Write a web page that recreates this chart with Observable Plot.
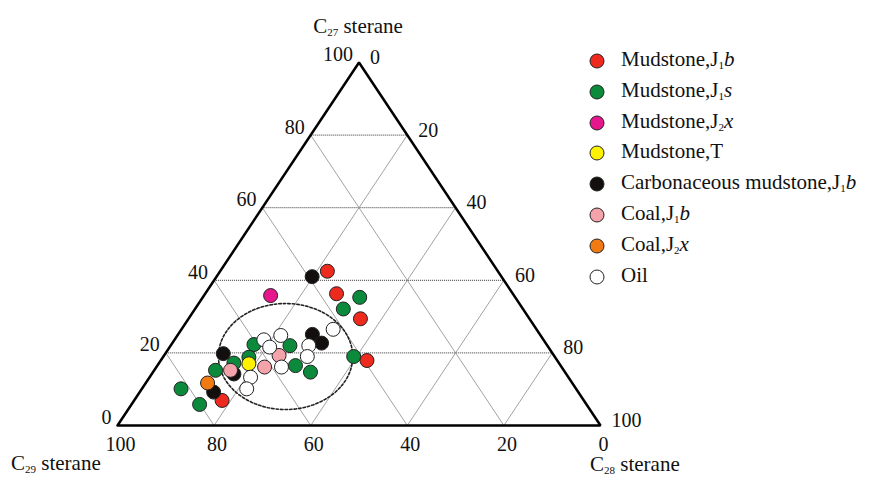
<!DOCTYPE html>
<html><head><meta charset="utf-8">
<script src="https://cdn.jsdelivr.net/npm/d3@7"></script>
<script src="https://cdn.jsdelivr.net/npm/@observablehq/plot@0.6"></script>
<style>
html,body{margin:0;padding:0;background:#fff;}
#wrap{position:relative;width:875px;height:477px;overflow:hidden;font-family:"Liberation Serif","Times New Roman",serif;color:#111;}
#wrap svg.chart{position:absolute;left:0;top:0;}
.lbl{position:absolute;font-size:21px;line-height:16px;white-space:nowrap;}
.lbl sub{font-size:11px;vertical-align:-3px;line-height:0;}
.sw{position:absolute;}
</style></head><body><div id="wrap"></div>
<script>
// Ternary data: [C27, C28, C29] in %
const mudstoneJ1b = [[42.5,22.2,35.3],[36.3,27.2,36.5],[29.4,35.6,35.0],[17.9,42.7,39.4],[6.9,18.2,74.9]];
const mudstoneJ1s = [[35.3,32.5,32.2],[32.1,30.7,37.2],[19.0,39.4,41.6],[22.3,17.1,60.6],[22.0,24.7,53.3],[18.8,17.8,63.4],[17.2,15.5,67.3],[15.2,12.7,72.1],[16.5,28.6,54.9],[14.7,32.6,52.7],[10.1,8.1,81.8],[5.8,14.1,80.1]];
const mudstoneJ2x = [[35.8,13.8,50.4]];
const mudstoneT = [[17.0,18.7,64.3]];
const carbMudstoneJ1b = [[41.0,19.8,39.2],[25.1,27.8,47.1],[22.7,30.9,46.4],[19.8,12.0,68.2],[14.2,17.0,68.8],[9.2,15.3,75.5]];
const coalJ1b = [[19.3,23.8,56.9],[16.1,22.4,61.5],[15.2,15.8,69.0]];
const coalJ2x = [[11.7,12.8,75.5]];
const oil = [[26.5,31.4,42.1],[23.6,18.5,57.9],[24.8,21.4,53.8],[21.6,20.7,57.7],[22.0,28.6,49.4],[19.0,29.8,51.2],[16.1,25.9,58.0],[13.3,20.9,65.8],[10.1,21.7,68.2]];

const tickValues = [0,20,40,60,80,100];
const gridValues = [20,40,60,80];
const vertices = [[0,0,100],[0,100,0],[100,0,0],[0,0,100]];
// Source-field ellipse (in plotted x/y units)
const ellipseCenter = {x:34.8, y:19.0};
const ellipseRadius = {x:13.9, y:14.6};

const legendLabels = [
  'Mudstone,J<sub>1</sub><i>b</i>',
  'Mudstone,J<sub>1</sub><i>s</i>',
  'Mudstone,J<sub>2</sub><i>x</i>',
  'Mudstone,T',
  'Carbonaceous mudstone,J<sub>1</sub><i>b</i>',
  'Coal,J<sub>1</sub><i>b</i>',
  'Coal,J<sub>2</sub><i>x</i>',
  'Oil'
];
const groups = [mudstoneJ1b, mudstoneJ1s, mudstoneJ2x, mudstoneT, carbMudstoneJ1b, coalJ1b, coalJ2x, oil];
const colors = ['#ee2a1e','#0b8a3c','#e6168c','#fff200','#140f0f','#f5a3aa','#f27a12','#ffffff'];
const drawOrder = [1,0,4,2,6,5,3,7];

const tx = d => d[1] + d[0]/2;
const ty = d => d[0];

const ellipsePts = d3.range(0, 361, 3).map(a => {
  const t = a*Math.PI/180;
  return {x: ellipseCenter.x + ellipseRadius.x*Math.cos(t), y: ellipseCenter.y + ellipseRadius.y*Math.sin(t)};
});

const font = {fontFamily:'"Liberation Serif","Times New Roman",serif', fontSize:20, fill:'#111'};

const marks = [
  Plot.link(gridValues, {x1: v=>v/2, y1: v=>v, x2: v=>100-v/2, y2: v=>v, stroke:'#333', strokeWidth:1, strokeDasharray:'1,1'}),
  Plot.link(gridValues, {x1: v=>v, y1: ()=>0, x2: v=>50+v/2, y2: v=>100-v, stroke:'#8a8a8a', strokeWidth:0.8}),
  Plot.link(gridValues, {x1: v=>100-v, y1: ()=>0, x2: v=>(100-v)/2, y2: v=>100-v, stroke:'#8a8a8a', strokeWidth:0.8}),
  Plot.line(vertices, {x: tx, y: ty, stroke:'#000', strokeWidth:2.5, strokeLinejoin:'miter'}),
  Plot.line(ellipsePts, {x:'x', y:'y', stroke:'#222', strokeWidth:1.6, strokeDasharray:'2.5,2'}),
  ...drawOrder.map(i => Plot.dot(groups[i], {x: tx, y: ty, r:7, fill: colors[i], stroke:'#222', strokeWidth:1})),
  Plot.text(tickValues, {x: v=>v/2, y: v=>v, text: v=>String(v), textAnchor:'end', dx:-6, dy:-8, ...font}),
  Plot.text(tickValues, {x: v=>50+v/2, y: v=>100-v, text: v=>String(v), textAnchor:'start', dx:11, dy:-5, ...font}),
  Plot.text(tickValues, {x: v=>100-v, y: ()=>0, text: v=>String(v), textAnchor:'middle', dx:3, dy:19, ...font})
];

const chart = Plot.plot({
  width:875, height:477,
  marginLeft:117, marginRight:275, marginTop:62, marginBottom:52,
  x:{domain:[0,100], axis:null},
  y:{domain:[0,100], axis:null},
  style:{background:'transparent', overflow:'visible'},
  marks
});
chart.classList.add('chart');
const wrap = document.getElementById('wrap');
wrap.appendChild(chart);

function addLabel(html, left, baseline, center) {
  const d = document.createElement('div');
  d.className = 'lbl';
  d.innerHTML = html;
  d.style.left = left + 'px';
  d.style.top = (baseline - 15.1) + 'px';
  if (center) d.style.transform = 'translateX(-50%)';
  wrap.appendChild(d);
}
addLabel('C<sub>27</sub> sterane', 358, 33, true);
addLabel('C<sub>29</sub> sterane', 11, 470);
addLabel('C<sub>28</sub> sterane', 590, 471);

legendLabels.forEach((lab, i) => {
  const cy = 61 + i*30.8;
  const s = document.createElementNS('http://www.w3.org/2000/svg','svg');
  s.setAttribute('width', 18); s.setAttribute('height', 18);
  s.setAttribute('class','sw');
  s.style.left = (597-9) + 'px'; s.style.top = (cy-9) + 'px';
  const c = document.createElementNS('http://www.w3.org/2000/svg','circle');
  c.setAttribute('cx', 9); c.setAttribute('cy', 9); c.setAttribute('r', 7);
  c.setAttribute('fill', colors[i]); c.setAttribute('stroke', '#222'); c.setAttribute('stroke-width', 1);
  s.appendChild(c);
  wrap.appendChild(s);
  addLabel(lab, 621, cy + 5);
});
</script></body></html>
